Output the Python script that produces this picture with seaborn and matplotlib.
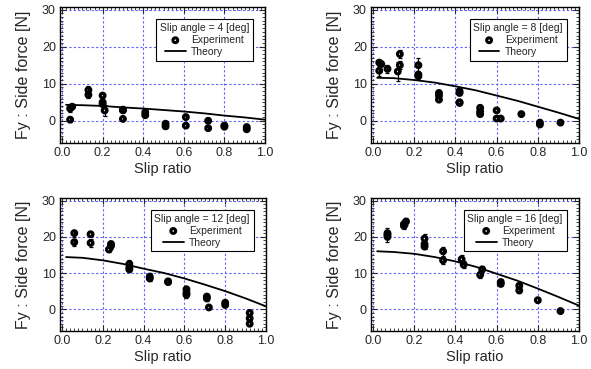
import numpy as np
import pandas as pd
import matplotlib
matplotlib.use("Agg")
import matplotlib.pyplot as plt
import seaborn as sns
from matplotlib.ticker import MultipleLocator

# datos
angulos = [4, 8, 12, 16]

x_4 = [0.04, 0.04, 0.05, 0.13, 0.13, 0.20, 0.20, 0.20, 0.21, 0.30, 0.30, 0.30, 0.41, 0.41, 0.51, 0.51, 0.61, 0.61, 0.72, 0.72, 0.80, 0.80, 0.91, 0.91]
y_4 = [3.3, 0.3, 3.8, 7.0, 8.3, 6.8, 5.0, 4.5, 2.8, 3.0, 2.8, 0.5, 2.3, 1.5, -0.8, -1.5, 1.0, -1.3, 0.0, -2.0, -1.3, -1.6, -1.7, -2.3]
e_4 = [0.8, 0.6, 0.4, 0.8, 1.0, 0.4, 0.5, 0.4, 1.5, 0.5, 0.4, 0.4, 0.5, 0.4, 0.4, 0.4, 0.4, 0.3, 0.3, 0.3, 0.3, 0.3, 0.3, 0.3]

x_8 = [0.03, 0.03, 0.04, 0.07, 0.12, 0.13, 0.13, 0.22, 0.22, 0.22, 0.32, 0.32, 0.32, 0.42, 0.42, 0.42, 0.42, 0.52, 0.52, 0.52, 0.60, 0.60, 0.62, 0.72, 0.81, 0.81, 0.91]
y_8 = [13.5, 15.7, 15.3, 14.0, 13.3, 18.0, 15.0, 15.0, 12.5, 12.0, 7.5, 6.8, 5.7, 8.0, 7.5, 5.0, 4.8, 3.5, 2.5, 1.8, 2.8, 0.6, 0.6, 1.8, -0.5, -1.0, -0.5]
e_8 = [1.5, 0.8, 0.6, 1.0, 2.5, 1.0, 1.0, 2.0, 0.6, 0.5, 0.6, 0.5, 0.5, 0.6, 0.4, 0.5, 0.4, 0.5, 0.4, 0.4, 0.3, 0.3, 0.3, 0.4, 0.4, 0.4, 0.3]

x_12 = [0.06, 0.06, 0.14, 0.14, 0.23, 0.24, 0.24, 0.33, 0.33, 0.33, 0.43, 0.43, 0.52, 0.52, 0.61, 0.61, 0.61, 0.71, 0.71, 0.72, 0.80, 0.80, 0.92, 0.92, 0.92]
y_12 = [21.0, 18.5, 20.7, 18.3, 16.5, 17.5, 18.0, 12.5, 11.5, 11.0, 9.0, 8.5, 7.7, 7.5, 5.5, 4.5, 4.0, 3.5, 3.0, 0.5, 1.8, 1.2, -1.0, -2.5, -4.0]
e_12 = [1.0, 1.0, 0.6, 1.2, 0.8, 0.8, 0.8, 1.2, 0.8, 0.6, 1.0, 0.8, 0.6, 0.5, 0.8, 0.8, 0.8, 0.6, 0.6, 0.5, 0.6, 0.5, 0.4, 0.4, 0.4]

x_16 = [0.07, 0.07, 0.07, 0.15, 0.15, 0.16, 0.25, 0.25, 0.25, 0.34, 0.34, 0.43, 0.44, 0.52, 0.53, 0.62, 0.62, 0.71, 0.71, 0.80, 0.91]
y_16 = [20.0, 21.0, 20.5, 23.0, 23.5, 24.2, 19.5, 18.0, 17.3, 16.0, 13.5, 13.8, 12.3, 9.5, 11.0, 7.5, 7.0, 6.5, 5.2, 2.5, -0.5]
e_16 = [1.5, 1.5, 1.0, 0.8, 0.8, 1.0, 1.3, 1.0, 0.8, 1.2, 1.0, 1.2, 1.0, 0.8, 0.8, 0.8, 0.6, 0.8, 0.6, 0.5, 0.3]

# curva teorica
x_teoria = [0.02, 0.1, 0.2, 0.3, 0.4, 0.5, 0.6, 0.7, 0.8, 0.9, 1.0]
y_teoria_4 = [4.3, 4.2, 4.0, 3.6, 3.3, 2.9, 2.5, 2.0, 1.4, 0.9, 0.3]
y_teoria_8 = [11.6, 11.5, 11.0, 10.3, 9.3, 8.2, 6.8, 5.4, 3.8, 2.2, 0.5]
y_teoria_12 = [14.4, 14.2, 13.5, 12.5, 11.2, 10.0, 8.5, 6.8, 5.0, 3.0, 0.8]
y_teoria_16 = [16.0, 15.8, 15.3, 14.4, 13.2, 11.7, 9.8, 7.9, 5.7, 3.4, 1.0]

experimentos = [(x_4, y_4, e_4), (x_8, y_8, e_8), (x_12, y_12, e_12), (x_16, y_16, e_16)]
teorias = [y_teoria_4, y_teoria_8, y_teoria_12, y_teoria_16]

sns.set_style("ticks")
plt.rcParams["font.family"] = ["Liberation Sans", "DejaVu Sans"]

fig = plt.figure(figsize=(5.91, 3.69), dpi=100)
posiciones = [
    [60 / 591, 1 - 143 / 369, 205 / 591, 136 / 369],
    [371 / 591, 1 - 143 / 369, 208 / 591, 136 / 369],
    [60 / 591, 1 - 331 / 369, 206 / 591, 133 / 369],
    [371 / 591, 1 - 331 / 369, 208 / 591, 133 / 369],
]

for pos, ang, (xs, ys, es), yt in zip(posiciones, angulos, experimentos, teorias):
    ax = fig.add_axes(pos)
    ax.set_axisbelow(True)
    ax.grid(which="major", color="#6060ff", linestyle=(0, (2, 2)), linewidth=0.8)
    df = pd.DataFrame({"slip": xs, "fy": ys})
    ax.errorbar(xs, ys, yerr=es, fmt="none", ecolor="black", elinewidth=0.9, capsize=1.6, capthick=0.9, zorder=3)
    sns.scatterplot(data=df, x="slip", y="fy", ax=ax, marker="o", s=12,
                    facecolor="none", edgecolor="black", linewidth=2.2, zorder=4,
                    label="Experiment")
    df_t = pd.DataFrame({"slip": x_teoria, "fy": yt})
    sns.lineplot(data=df_t, x="slip", y="fy", ax=ax, color="black", linewidth=1.3,
                 label="Theory", zorder=5)

    ax.set_xlim(-0.01, 1.0)
    ax.set_ylim(-6, 30.7)
    ax.xaxis.set_minor_locator(MultipleLocator(0.02))
    ax.yaxis.set_major_locator(MultipleLocator(10))
    ax.yaxis.set_minor_locator(MultipleLocator(1))
    ax.set_xticks([0.0, 0.2, 0.4, 0.6, 0.8, 1.0])
    ax.set_xticklabels(["0.0", "0.2", "0.4", "0.6", "0.8", "1.0"])
    ax.tick_params(which="both", direction="in", top=True, right=True, labelsize=9, pad=3)
    ax.tick_params(which="major", length=4, width=0.8)
    ax.tick_params(which="minor", length=2, width=0.6)
    for s in ax.spines.values():
        s.set_linewidth(1.0)
        s.set_color("black")
    ax.set_xlabel("Slip ratio", fontsize=10.5, labelpad=2)
    ax.set_ylabel("Fy : Side force [N]", fontsize=11.5, labelpad=8)

    leg = ax.legend(title=f"Slip angle = {ang} [deg]", loc="upper right", fontsize=7.5,
                    title_fontsize=7.5, frameon=True, fancybox=False, borderpad=0.35,
                    labelspacing=0.2, handlelength=2.0, handletextpad=0.5,
                    borderaxespad=0, bbox_to_anchor=(0.94, 0.91))
    leg.get_frame().set_edgecolor("black")
    leg.get_frame().set_linewidth(0.8)
    leg.get_frame().set_alpha(1)

fig.savefig("out.png", dpi=100)
